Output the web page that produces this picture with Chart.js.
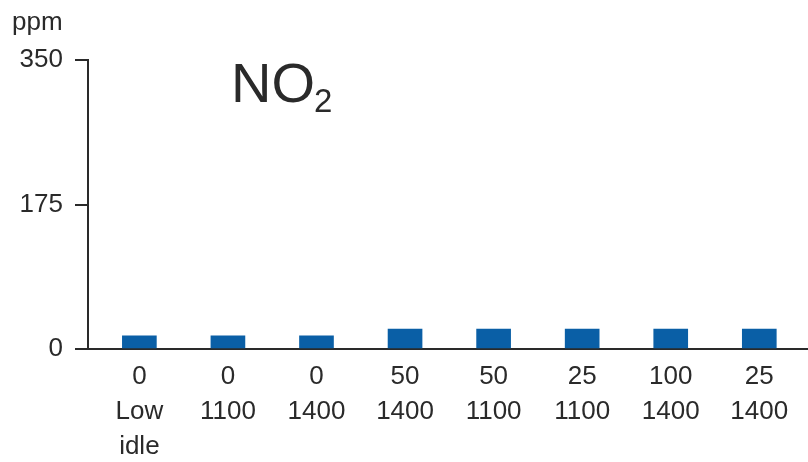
<!DOCTYPE html>
<html>
<head>
<meta charset="utf-8">
<script src="https://cdn.jsdelivr.net/npm/chart.js@4/dist/chart.umd.min.js"></script>
<style>
    html, body { margin: 0; padding: 0; background: #fff; }
    #wrap { width: 808px; height: 462px; position: relative; }
</style>
</head>
<body>
<div id="wrap"><canvas id="no2Chart"></canvas></div>
<script>
// settings on the x axis: load (%) / engine speed (rpm)
const xLabels = [
    ["0", "Low", "idle"],
    ["0", "1100"],
    ["0", "1400"],
    ["50", "1400"],
    ["50", "1100"],
    ["25", "1100"],
    ["100", "1400"],
    ["25", "1400"],
];
const no2Values = [16, 16, 16, 24, 24, 24, 24, 24];
const yTicks = [0, 175, 350];

const ink = "#2a2a2a";
const font = "'Liberation Sans', Arial, Helvetica, sans-serif";

const labelsPlugin = {
    id: "extraText",
    afterDraw(chart) {
        const ctx = chart.ctx;
        ctx.save();
        ctx.fillStyle = ink;
        ctx.textBaseline = "alphabetic";
        ctx.textAlign = "left";
        ctx.font = "26px " + font;
        ctx.fillText("ppm", 12, 30);
        ctx.font = "56px " + font;
        ctx.fillText("NO", 231, 102);
        ctx.font = "33px " + font;
        ctx.fillText("2", 314, 112);
        ctx.restore();
    },
};

const ctx = document.getElementById("no2Chart").getContext("2d");
new Chart(ctx, {
    type: "bar",
    data: {
        datasets: [
            {
                label: "NO2",
                data: no2Values.map((v, i) => ({ x: i, y: v })),
                backgroundColor: "#0a5fa6",
                borderWidth: 0,
                barThickness: 34,
            },
        ],
    },
    options: {
        responsive: true,
        maintainAspectRatio: false,
        animation: false,
        layout: { padding: { top: 60, left: 0, right: 0, bottom: 0 } },
        plugins: { legend: { display: false }, tooltip: { enabled: false } },
        scales: {
            x: {
                type: "linear",
                offset: false,
                min: -0.58,
                max: 7.55,
                afterBuildTicks: (axis) => {
                    axis.ticks = xLabels.map((_, i) => ({ value: i }));
                },
                afterFit: (axis) => {
                    axis.height = 113;
                    axis.paddingLeft = 0;
                    axis.paddingRight = 0;
                },
                grid: { display: false, drawTicks: false, offset: false },
                border: { display: true, color: ink, width: 2 },
                ticks: {
                    autoSkip: false,
                    maxRotation: 0,
                    padding: 10,
                    color: ink,
                    font: { family: font, size: 26, lineHeight: 1.35 },
                    callback: (value) => xLabels[value],
                },
            },
            y: {
                min: 0,
                max: 350,
                afterBuildTicks: (axis) => {
                    axis.ticks = yTicks.map((v) => ({ value: v }));
                },
                afterFit: (axis) => {
                    axis.width = 88;
                },
                grid: {
                    display: true,
                    drawOnChartArea: false,
                    drawTicks: true,
                    tickLength: 13,
                    color: ink,
                    lineWidth: 2,
                },
                border: { display: true, color: ink, width: 2 },
                ticks: {
                    padding: 12,
                    color: ink,
                    font: { family: font, size: 26 },
                },
            },
        },
    },
    plugins: [labelsPlugin],
});
</script>
</body>
</html>
